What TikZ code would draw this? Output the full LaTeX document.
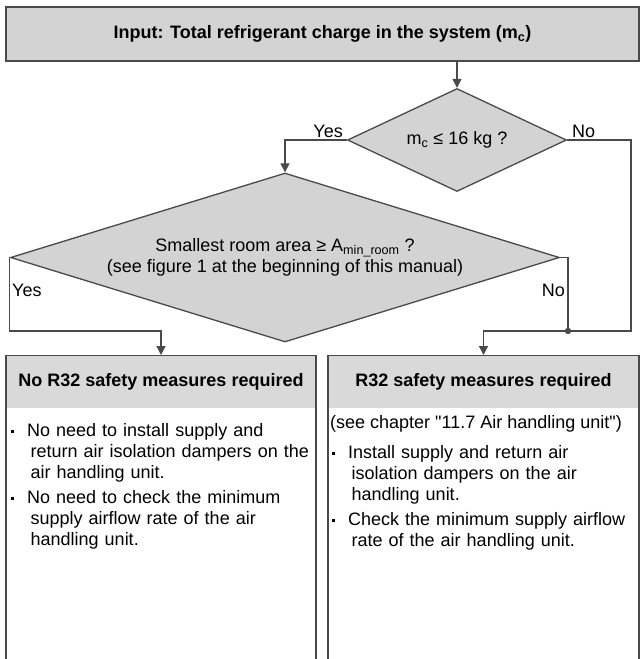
\documentclass[tikz,border=0pt]{standalone}
\usepackage{fontspec}
\setmainfont{Liberation Sans}
\newfontfamily\plainsans{Liberation Sans}
\usetikzlibrary{shapes.geometric,arrows.meta}

\definecolor{boxgray}{HTML}{D3D3D3}
\definecolor{headgray}{HTML}{D9D9D9}
\definecolor{linegray}{HTML}{4A4A4A}

% bullet with hanging indent
\newcommand{\bulletitem}[1]{\par\noindent\hangindent=3.5pt\hangafter=1%
  \llap{\rule[3pt]{3.5pt}{3.5pt}\hspace{13pt}}#1\par\vskip4pt}

\begin{document}
\begin{tikzpicture}[x=1pt,y=-1pt,
    txt/.style={font=\fontsize{18}{21}\selectfont},
    inputbox/.style={txt, draw=linegray, fill=boxgray, line width=1.3pt, inner sep=0pt},
    decision/.style={txt, diamond, draw=linegray, fill=boxgray, line width=1.3pt, inner sep=0pt, align=center},
    headbox/.style={txt, fill=headgray, inner sep=0pt},
    bodybox/.style={draw=linegray, line width=1.3pt, inner sep=0pt},
    itemtext/.style={txt, inner sep=0pt, text width=300pt, align=left},
    lbl/.style={txt, inner sep=0pt},
    flow/.style={draw=linegray, line width=1.2pt, -{Triangle[width=9pt,length=9pt]}},
    link/.style={draw=linegray, line width=1.2pt}]

      \useasboundingbox (0,0) rectangle (643,659);
      \clip (0,0) rectangle (643,659);

      % Define the positions of the nodes
      \node[inputbox, minimum width=633pt, minimum height=54pt] (input) at (322.5,34)
        {\textbf{Input: Total refrigerant charge in the system (m\textsubscript{c})}};

      \node[decision, aspect=2.1, minimum width=219pt, minimum height=103pt] (q1) at (457,140)
        {m\textsubscript{c} ≤ 16 kg ?};
      \node[decision, aspect=3.25, minimum width=549pt, minimum height=169pt] (q2) at (285,257.5)
        {Smallest room area ≥ A\textsubscript{min\_room} ?\\(see figure 1 at the beginning of this manual)};

      \node[lbl, anchor=base east] (yes1) at (343,137) {Yes};
      \node[lbl, anchor=base west] (no1) at (572,137) {No};
      \node[lbl, anchor=base west] (yes2) at (12,296) {Yes};
      \node[lbl, anchor=base east] (no2) at (565,296) {No};

      \coordinate (junc) at (568,331);
      \coordinate (nocorner) at (631,331);
      \coordinate (yesturn) at (161,331);

      \node[headbox, minimum width=310pt, minimum height=53pt, anchor=north] (noreq) at (161,355)
        {\textbf{No R32 safety measures required}};
      \node[bodybox, minimum width=310pt, minimum height=330pt, anchor=north] (noreqbox) at (161,355) {};

      \node[headbox, minimum width=311pt, minimum height=53pt, anchor=north] (req) at (483.5,355)
        {\textbf{R32 safety measures required}};
      \node[bodybox, minimum width=311pt, minimum height=330pt, anchor=north] (reqbox) at (483.5,355) {};

      \node[itemtext, anchor=north west] (noreqtext) at (27,415) {%
        \bulletitem{No need to install supply and\newline return air isolation dampers on the\newline air handling unit.}
        \bulletitem{No need to check the minimum\newline supply airflow rate of the air\newline handling unit.}};

      \node[lbl, anchor=base west] (seenote) at (330,428)
        {\plainsans (see chapter "11.7 Air handling unit")};
      \node[itemtext, anchor=north west] (reqtext) at (348,437) {%
        \bulletitem{Install supply and return air\newline isolation dampers on the air\newline handling unit.}
        \bulletitem{Check the minimum supply airflow\newline rate of the air handling unit.}};

      % Draw the edges
      \draw[flow] (q1.north |- input.south) -- (q1.north);
      \draw[flow] (q1.west) -| (q2.north);
      \draw[flow] (q1.east) -| (nocorner) -| (req.north);
      \draw[link] (q2.east) -| (junc);
      \fill[linegray] (junc) circle (3.2pt);
      \draw[flow] (q2.west) |- (yesturn) -- (noreq.north);
  \end{tikzpicture}
\end{document}
